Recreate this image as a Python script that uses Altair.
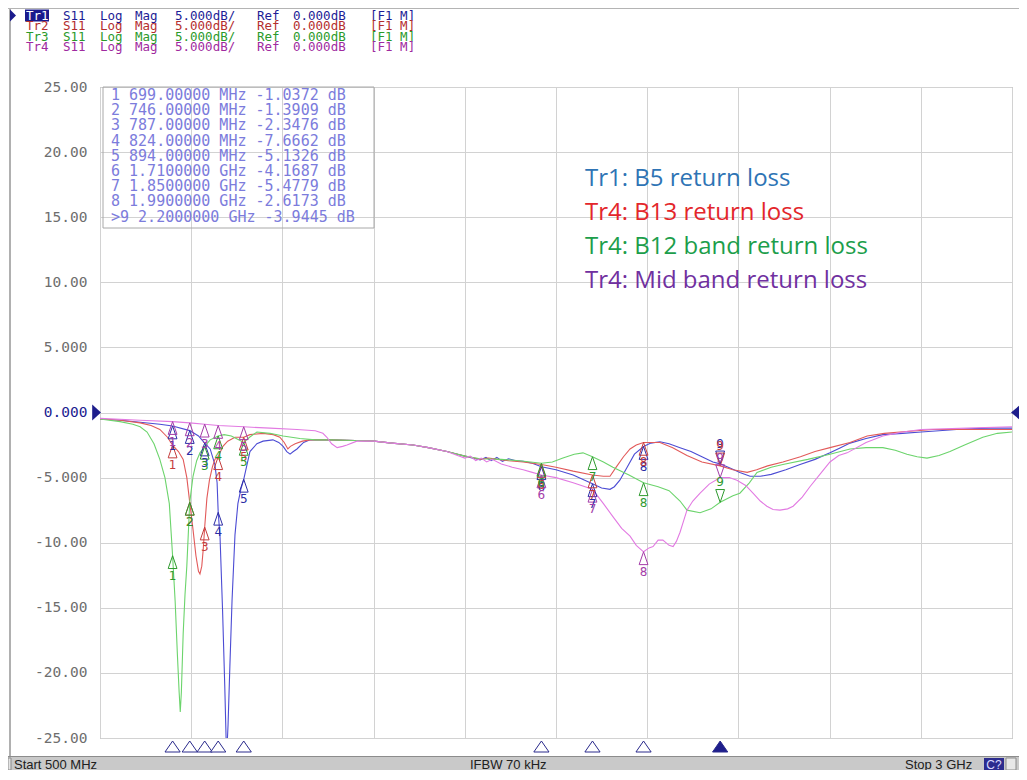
import altair as alt
import pandas as pd

# ---------------- data ----------------
TRACES = ["Tr1", "Tr2", "Tr3", "Tr4"]

tr1_freq = [500, 555, 610, 664, 699, 746, 770, 787, 802, 815, 821, 824, 829, 836, 842, 847, 851, 856, 862, 870,
            878, 886, 894, 903, 911, 930, 947, 974, 990, 1002, 1012, 1021, 1030, 1040, 1058, 1076, 1130, 1200,
            1251, 1300, 1358, 1400, 1451, 1480, 1500, 1520, 1542, 1558, 1572, 1588, 1603, 1620, 1640, 1660, 1685,
            1710, 1750, 1797, 1850, 1875, 1898, 1910, 1925, 1945, 1965, 1990, 2010, 2035, 2060, 2090, 2120, 2150,
            2180, 2200, 2230, 2254, 2282, 2310, 2340, 2380, 2419, 2460, 2501, 2530, 2556, 2600, 2646, 2700, 2751,
            2800, 2877, 2940, 3000]
tr1_db = [-0.5, -0.6, -0.75, -0.9, -1.0372, -1.3909, -1.8, -2.3476, -2.8, -4.0, -5.4, -7.6662, -9.5, -15.2, -21.0,
          -26.5, -24.0, -19.5, -14.4, -9.4, -7.0, -5.9, -5.1326, -4.0, -3.0, -2.4, -2.2, -2.1, -2.3, -2.6, -3.0,
          -3.2, -3.0, -2.8, -2.3, -2.1, -2.1, -2.15, -2.2, -2.35, -2.5, -2.7, -3.0, -3.2, -3.35, -3.5, -3.65,
          -3.45, -3.7, -3.45, -3.75, -3.55, -3.7, -3.75, -3.9, -4.1687, -4.4, -4.8, -5.4779, -5.8, -5.9, -5.7,
          -5.2, -4.2, -3.2, -2.6173, -2.35, -2.25, -2.4, -2.7, -3.0, -3.4, -3.8, -3.9445, -4.3, -4.6, -4.9, -4.9,
          -4.75, -4.4, -4.0, -3.6, -3.1, -2.7, -2.35, -2.0, -1.7, -1.6, -1.5, -1.4, -1.25, -1.2, -1.2]

tr2_freq = [500, 555, 610, 640, 664, 685, 699, 715, 728, 738, 746, 755, 763, 770, 774, 779, 783, 787, 793, 800,
            808, 815, 824, 837, 850, 870, 894, 911, 947, 975, 993, 1005, 1015, 1022, 1035, 1055, 1076, 1130, 1200,
            1251, 1300, 1358, 1400, 1451, 1480, 1500, 1520, 1542, 1565, 1590, 1620, 1660, 1710, 1750, 1797, 1850,
            1880, 1898, 1915, 1935, 1953, 1970, 1990, 2035, 2070, 2109, 2150, 2200, 2235, 2274, 2300, 2330, 2372,
            2420, 2460, 2501, 2556, 2603, 2650, 2693, 2783, 2900, 3000]
tr2_db = [-0.5, -0.6, -0.8, -1.0, -1.3, -1.9, -2.5, -3.0, -3.6, -5.0, -6.9, -9.0, -11.0, -12.2, -12.4, -11.8,
          -10.5, -8.8, -6.6, -5.2, -4.2, -3.6, -3.4, -2.6, -2.2, -1.9, -1.9, -1.7, -1.6, -1.7, -1.9, -2.3, -2.8,
          -2.6, -2.4, -2.2, -2.1, -2.1, -2.15, -2.2, -2.35, -2.5, -2.7, -3.0, -3.2, -3.35, -3.45, -3.6, -3.5,
          -3.6, -3.7, -3.8, -4.0, -4.2, -4.5, -4.8, -4.9, -4.9, -4.2, -3.4, -2.8, -2.5, -2.3, -2.3, -2.7, -3.3,
          -3.8, -4.1, -4.4, -4.6, -4.4, -4.1, -3.8, -3.4, -3.0, -2.7, -2.3, -1.8, -1.6, -1.5, -1.3, -1.3, -1.3]

tr3_freq = [500, 555, 590, 610, 629, 648, 664, 678, 690, 699, 706, 712, 717, 720, 723, 728, 733, 738, 746, 755,
            765, 774, 787, 802, 824, 840, 860, 880, 894, 910, 930, 966, 1002, 1048, 1090, 1130, 1200, 1251, 1300,
            1358, 1400, 1451, 1500, 1542, 1600, 1650, 1710, 1740, 1769, 1800, 1824, 1850, 1880, 1906, 1950, 1990,
            2030, 2060, 2090, 2109, 2145, 2175, 2200, 2235, 2254, 2280, 2301, 2340, 2372, 2440, 2501, 2556, 2600,
            2646, 2680, 2712, 2740, 2767, 2800, 2830, 2870, 2920, 2960, 3000]
tr3_db = [-0.5, -0.7, -0.9, -1.1, -1.5, -2.4, -3.6, -5.0, -7.0, -11.0, -14.5, -18.5, -21.5, -23.0, -21.5, -17.0,
          -14.0, -11.8, -6.9, -4.9, -3.7, -3.1, -2.6, -2.1, -1.8, -1.7, -1.8, -2.1, -2.3, -1.9, -1.5, -1.6, -1.8,
          -2.0, -2.1, -2.1, -2.15, -2.2, -2.35, -2.5, -2.7, -3.0, -3.35, -3.55, -3.6, -3.7, -3.9, -3.8, -3.5,
          -3.2, -3.1, -3.4, -3.8, -4.2, -4.8, -5.4, -5.7, -6.0, -6.8, -7.5, -7.7, -7.4, -6.9, -6.4, -6.2, -5.4,
          -4.6, -4.2, -4.0, -3.6, -3.2, -2.8, -2.7, -2.7, -2.9, -3.2, -3.4, -3.5, -3.3, -3.0, -2.5, -1.9, -1.6, -1.5]

tr4_freq = [500, 610, 699, 746, 787, 824, 894, 966, 1040, 1090, 1111, 1122, 1135, 1150, 1165, 1177, 1204, 1251,
            1300, 1358, 1400, 1451, 1480, 1500, 1515, 1530, 1545, 1560, 1575, 1600, 1630, 1660, 1685, 1710, 1750,
            1797, 1850, 1880, 1906, 1930, 1953, 1970, 1990, 2005, 2016, 2030, 2043, 2060, 2071, 2080, 2090, 2100,
            2109, 2125, 2145, 2170, 2200, 2225, 2246, 2270, 2290, 2310, 2328, 2345, 2364, 2385, 2400, 2425, 2446,
            2475, 2501, 2525, 2548, 2600, 2646, 2700, 2751, 2877, 3000]
tr4_db = [-0.45, -0.6, -0.7, -0.8, -0.9, -1.0, -1.1, -1.2, -1.3, -1.4, -1.6, -1.9, -2.4, -2.7, -2.6, -2.5, -2.2,
          -2.2, -2.35, -2.5, -2.7, -3.0, -3.3, -3.5, -3.35, -3.7, -3.5, -3.8, -3.6, -3.95, -4.2, -4.4, -4.6, -4.8,
          -5.0, -5.4, -5.9, -7.0, -8.0, -8.9, -9.5, -10.2, -10.7, -10.4, -10.3, -9.8, -9.8, -10.2, -10.3, -9.9,
          -9.2, -8.3, -7.5, -6.8, -6.2, -5.5, -5.0, -5.0, -5.2, -5.6, -6.2, -6.8, -7.2, -7.45, -7.5, -7.4, -7.2,
          -6.5, -5.7, -4.7, -3.8, -3.3, -3.1, -2.3, -1.8, -1.5, -1.3, -1.2, -1.1]

marker_freq = [699, 746, 787, 824, 894, 1710, 1850, 1990, 2200]
marker_tr1 = [-1.0372, -1.3909, -2.3476, -7.6662, -5.1326, -4.1687, -5.4779, -2.6173, -3.9445]
marker_tr2 = [-2.5, -6.9, -8.8, -3.4, -1.9, -4.0, -4.8, -2.3, -4.1]
marker_tr3 = [-11.0, -6.9, -2.6, -1.8, -2.3, -3.9, -3.4, -5.4, -6.9]
marker_tr4 = [-0.7, -0.8, -0.9, -1.0, -1.1, -4.8, -5.9, -10.7, -5.0]
active_marker = 9

header_words = ["S11", "Log", "Mag", "5.000dB/", "Ref", "0.000dB", "[F1 M]"]
legend_lines = ["Tr1: B5 return loss", "Tr4: B13 return loss",
                "Tr4: B12 band return loss", "Tr4: Mid band return loss"]
status_left = "Start 500 MHz"
status_mid = "IFBW 70 kHz"
status_right = "Stop 3 GHz"
y_ticks = [-25, -20, -15, -10, -5, 0, 5, 10, 15, 20, 25]
x_grid = [500, 750, 1000, 1250, 1500, 1750, 2000, 2250, 2500, 2750, 3000]

# ---------------- styles ----------------
W, H = 912, 651
PAD = {"left": 92, "top": 79, "right": 7, "bottom": 32}
line_colors = {"Tr1": "#4c4cd4", "Tr2": "#e25a5a", "Tr3": "#6cd46c", "Tr4": "#e27ae2"}
marker_colors = {"Tr1": "#2c2ca6", "Tr2": "#c43c3c", "Tr3": "#2f9a2f", "Tr4": "#a43ca8"}
header_colors = {"Tr1": "#1c1c96", "Tr2": "#b42e2e", "Tr3": "#2a9a2a", "Tr4": "#a02aa0"}
legend_colors = ["#2e74b5", "#e3262b", "#1c9e4b", "#7030a0"]
MONO = "DejaVu Sans Mono"
UP = "M0,0L-1.1,3.2L1.1,3.2Z"
DOWN = "M0,0L-1.1,-3.2L1.1,-3.2Z"

# ---------------- tables ----------------
freqs = {"Tr1": tr1_freq, "Tr2": tr2_freq, "Tr3": tr3_freq, "Tr4": tr4_freq}
dbs = {"Tr1": tr1_db, "Tr2": tr2_db, "Tr3": tr3_db, "Tr4": tr4_db}
mks = {"Tr1": marker_tr1, "Tr2": marker_tr2, "Tr3": marker_tr3, "Tr4": marker_tr4}

rows = []
for t in TRACES:
    for f, d in zip(freqs[t], dbs[t]):
        rows.append({"trace": t, "freq": f, "db": d})
df_lines = pd.DataFrame(rows)

mrows = []
for t in TRACES:
    for i, (f, d) in enumerate(zip(marker_freq, mks[t])):
        mrows.append({"trace": t, "freq": f, "db": d, "num": str(i + 1),
                      "col": marker_colors[t], "active": (i + 1) == active_marker})
df_mk = pd.DataFrame(mrows)
df_mk_up = df_mk[~df_mk["active"]]
df_mk_dn = df_mk[df_mk["active"]]

df_bottom = pd.DataFrame({"freq": marker_freq,
                          "fillc": ["#1e1e8c" if (i + 1) == active_marker else "#ffffff"
                                    for i in range(len(marker_freq))]})
dummy = pd.DataFrame({"a": [0]})
zero = pd.DataFrame({"db": [0]})

xscale = alt.Scale(domain=[500, 3000], nice=False, zero=False)
yscale = alt.Scale(domain=[-25, 25], nice=False, zero=False)

RIGHT = W + PAD["right"]
BOTTOM = H + PAD["bottom"]


def text_layer(s, x, y, color, size, font, align="left", weight="normal"):
    return alt.Chart(dummy).mark_text(align=align, baseline="middle", font=font, fontSize=size,
                                      color=color, fontWeight=weight).encode(
        x=alt.value(x), y=alt.value(y), text=alt.value(s))


def rect_layer(x, x2, y, y2, fill, stroke=None, sw=1, fo=1):
    kw = dict(fill=fill, fillOpacity=fo)
    if stroke is not None:
        kw.update(stroke=stroke, strokeWidth=sw)
    return alt.Chart(dummy).mark_rect(**kw).encode(
        x=alt.value(x), x2=alt.value(x2), y=alt.value(y), y2=alt.value(y2))


layers = []

# base lines with axes/grid
lines = alt.Chart(df_lines).mark_line(clip=True, strokeWidth=1.1).encode(
    x=alt.X("freq:Q", scale=xscale,
            axis=alt.Axis(values=x_grid, labels=False, ticks=False, domain=False, title=None,
                          grid=True, gridColor="#d2d2d2", gridWidth=1)),
    y=alt.Y("db:Q", scale=yscale,
            axis=alt.Axis(values=y_ticks, ticks=False, domain=False, title=None, grid=True,
                          gridColor="#d2d2d2", gridWidth=1, labelFont=MONO, labelFontSize=14.5,
                          labelPadding=13, labelFlush=False, labelOverlap=False,
                          labelExpr="(datum.value < 0 ? '-' : '') + (abs(datum.value) >= 10 ? "
                                    "format(abs(datum.value), '.2f') : format(abs(datum.value), '.3f'))",
                          labelColor={"condition": {"test": "datum.value == 0", "value": "#1c1c90"},
                                      "value": "#6e6e6e"})),
    color=alt.Color("trace:N", scale=alt.Scale(domain=TRACES, range=[line_colors[t] for t in TRACES]),
                    legend=None),
    detail="trace:N",
)
layers.append(lines)

# window frame (drawn early so texts sit above it)
layers.append(rect_layer(-92, RIGHT, -79, -78, "#b4b4b4"))
layers.append(rect_layer(-91, -89, -78, 670, "#b0b0b0"))

# marker table box
layers.append(rect_layer(3, 274, 0, 141, "#ffffff", stroke="#a8a8a8", fo=0))

# trace markers
layers.append(alt.Chart(df_mk_up).mark_point(shape=UP, size=64, filled=False, strokeWidth=1, opacity=1).encode(
    x="freq:Q", y="db:Q", color=alt.Color("col:N", scale=None)))
layers.append(alt.Chart(df_mk_up).mark_text(dy=20, font="DejaVu Sans", fontSize=12).encode(
    x="freq:Q", y="db:Q", text="num:N", color=alt.Color("col:N", scale=None)))
layers.append(alt.Chart(df_mk_dn).mark_point(shape=DOWN, size=64, filled=False, strokeWidth=1, opacity=1).encode(
    x="freq:Q", y="db:Q", color=alt.Color("col:N", scale=None)))
layers.append(alt.Chart(df_mk_dn).mark_text(dy=-20, font="DejaVu Sans", fontSize=12).encode(
    x="freq:Q", y="db:Q", text="num:N", color=alt.Color("col:N", scale=None)))

# bottom marker triangles
layers.append(alt.Chart(df_bottom).mark_point(shape="M0,0L-1.9,2.75L1.9,2.75Z", size=64, filled=True,
                                              stroke="#2a2a8c", strokeWidth=1, opacity=1).encode(
    x="freq:Q", y=alt.value(H + 3), fill=alt.Fill("fillc:N", scale=None)))

# reference level arrows
layers.append(alt.Chart(zero).mark_point(shape="M0,0L-1.1,-1L-1.1,1Z", size=256, filled=True,
                                         color="#1e1e8c", opacity=1).encode(
    x=alt.value(1), y="db:Q"))
layers.append(alt.Chart(zero).mark_point(shape="M0,0L1.2,-1L1.2,1Z", size=256, filled=True,
                                         color="#1e1e8c", opacity=1).encode(
    x=alt.value(W - 1), y="db:Q"))

# marker table text
for i, (f, v) in enumerate(zip(marker_freq, marker_tr1)):
    num = (">" if (i + 1) == active_marker else " ") + str(i + 1)
    if f < 1000:
        fs, unit = f"{f:.5f}", "MHz"
    else:
        fs, unit = f"{f / 1000:.7f}", "GHz"
    row = f"{num}  {fs} {unit} {v:.4f} dB"
    layers.append(text_layer(row, 11, 8 + 15.2 * i, "#7c7cdc", 15, MONO))

# legend text
for i, (s, c) in enumerate(zip(legend_lines, legend_colors)):
    layers.append(text_layer(s, 485, 92 + 34 * i, c, 24, "Open Sans"))

# header
header_y = [-71.5, -61, -50.5, -40]
word_x = [-37, 0, 35, 75, 157, 193, 270]
layers.append(rect_layer(-75, -51, -77.5, -65.5, "#1a1a8c"))
layers.append(alt.Chart(dummy).mark_point(shape="M0,-1L1,0L0,1Z", size=144, filled=True,
                                          color="#1a1a8c", opacity=1).encode(
    x=alt.value(-90), y=alt.value(-71.5)))
for t, hy in zip(TRACES, header_y):
    col = header_colors[t]
    layers.append(text_layer(t, -74, hy, "#ffffff" if t == "Tr1" else col, 12.5, MONO))
    for w, wx in zip(header_words, word_x):
        layers.append(text_layer(w, wx, hy, col, 12.5, MONO))

# status bar
SB0 = 670
layers.append(rect_layer(-92, RIGHT, SB0, BOTTOM, "#c9c9c9"))
layers.append(rect_layer(-92, RIGHT, SB0 - 1, SB0, "#8c8c8c"))
layers.append(rect_layer(-92, -89, SB0 + 1, BOTTOM, "#e4e4e4", stroke="#8c8c8c"))
layers.append(text_layer(status_left, -86, SB0 + 7.5, "#202020", 13, "Liberation Sans"))
layers.append(text_layer(status_mid, 370, SB0 + 7.5, "#202020", 13, "Liberation Sans"))
layers.append(text_layer(status_right, 805, SB0 + 7.5, "#202020", 13, "Liberation Sans"))
layers.append(rect_layer(884, 904, SB0 + 1, BOTTOM, "#2c2c8e"))
layers.append(text_layer("C?", 894, SB0 + 7.5, "#d8d8ff", 12, "Liberation Sans", align="center"))
layers.append(rect_layer(906, 916, SB0 + 1, BOTTOM, "#e8e8e8", stroke="#8c8c8c"))

chart = alt.layer(*layers).properties(
    width=W, height=H,
    padding=PAD,
    autosize=alt.AutoSizeParams(type="none"),
    background="#ffffff",
).configure_view(stroke="#9a9a9a", strokeWidth=1)

chart.save("out.html", embed_options={"renderer": "svg", "actions": False})
